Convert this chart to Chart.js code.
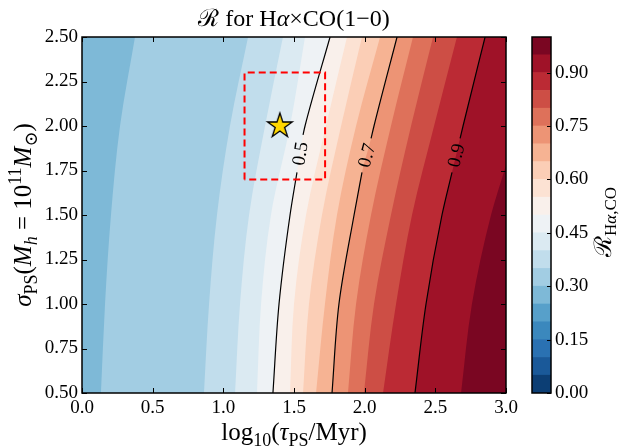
<!DOCTYPE html>
<html>
<head>
<meta charset="utf-8">
<script src="https://cdn.jsdelivr.net/npm/chart.js@4.4.1/dist/chart.umd.min.js"></script>
<style>
  html, body { margin: 0; padding: 0; background: #fff; }
  .wrap { position: relative; width: 621px; height: 447px; }
  .wrap canvas { position: absolute; left: 0; top: 0; }
</style>
</head>
<body>
<div class="wrap">
  <canvas id="mapChart" width="621" height="447"></canvas>
  <canvas id="barChart" width="621" height="447"></canvas>
</div>
<script>
// RdBu_r, one colour per 0.05 band from 0.00 to 1.00
const bandColors = [
  "#0c3e74", "#1a5999", "#2a71b2", "#3b88bd", "#57a0ca",
  "#7eb9d7", "#a2cde3", "#c1ddec", "#dbeaf2", "#eef2f5",
  "#f9f0eb", "#fce2d3", "#fbceb6", "#f6b393", "#ed9475",
  "#de715a", "#cd4e45", "#bb2a34", "#9f1228", "#7a0622"
];
const cbLevels = [0, 0.05, 0.1, 0.15, 0.2, 0.25, 0.3, 0.35, 0.4, 0.45, 0.5,
  0.55, 0.6, 0.65, 0.7, 0.75, 0.8, 0.85, 0.9, 0.95, 1.0];

const xTicks = [0, 0.5, 1, 1.5, 2, 2.5, 3];
const xTickLabels = ["0.0", "0.5", "1.0", "1.5", "2.0", "2.5", "3.0"];
const yTicks = [0.5, 0.75, 1, 1.25, 1.5, 1.75, 2, 2.25, 2.5];
const yTickLabels = ["0.50", "0.75", "1.00", "1.25", "1.50", "1.75", "2.00", "2.25", "2.50"];
const cbTicks = [0, 0.15, 0.3, 0.45, 0.6, 0.75, 0.9];
const cbTickLabels = ["0.00", "0.15", "0.30", "0.45", "0.60", "0.75", "0.90"];

// contour boundaries, [log10 tau, sigma] (bottom to top)
const edge25 = [[0, 0.5], [0, 2.5]];
const edge30 = [[0.134, 0.5], [0.163, 1.0], [0.205, 1.5], [0.269, 2.0], [0.375, 2.5]];
const edge35 = [[0.863, 0.5], [0.899, 1.0], [0.955, 1.5], [1.047, 2.0], [1.175, 2.5]];
const edge40 = [[1.083, 0.5], [1.118, 1.0], [1.182, 1.5], [1.295, 2.0], [1.422, 2.5]];
const edge45 = [[1.238, 0.5], [1.267, 1.0], [1.337, 1.5], [1.472, 2.0], [1.578, 2.5]];
const edge50 = [[1.351, 0.5], [1.394, 1.0], [1.472, 1.5], [1.521, 1.74], [1.564, 1.95], [1.578, 2.0], [1.755, 2.5]];
const edge55 = [[1.472, 0.5], [1.500, 1.0], [1.585, 1.5], [1.726, 2.0], [1.875, 2.5]];
const edge60 = [[1.564, 0.5], [1.606, 1.0], [1.698, 1.5], [1.833, 2.0], [1.981, 2.5]];
const edge65 = [[1.656, 0.5], [1.719, 1.0], [1.804, 1.5], [1.939, 2.0], [2.109, 2.5]];
const edge70 = [[1.769, 0.5], [1.818, 1.0], [1.925, 1.5], [1.981, 1.74], [2.045, 1.93], [2.066, 2.0], [2.229, 2.5]];
const edge75 = [[1.882, 0.5], [1.939, 1.0], [2.045, 1.5], [2.186, 2.0], [2.342, 2.5]];
const edge80 = [[1.995, 0.5], [2.066, 1.0], [2.186, 1.5], [2.328, 2.0], [2.484, 2.5]];
const edge85 = [[2.130, 0.5], [2.222, 1.0], [2.335, 1.5], [2.491, 2.0], [2.653, 2.5]];
const edge90 = [[2.356, 0.5], [2.434, 1.0], [2.547, 1.5], [2.618, 1.74], [2.675, 1.93], [2.696, 2.0], [2.852, 2.5]];
const edge95 = [[2.682, 0.5], [2.759, 1.0], [2.894, 1.5], [3.0, 1.78]];

const edgeLevels = [0.25, 0.3, 0.35, 0.4, 0.45, 0.5, 0.55, 0.6, 0.65, 0.7, 0.75, 0.8, 0.85, 0.9, 0.95];
const edges = [edge25, edge30, edge35, edge40, edge45, edge50, edge55, edge60,
  edge65, edge70, edge75, edge80, edge85, edge90, edge95];

// black contour lines, broken for the label between point 3 and 4
const lineEdges = [edge50, edge70, edge90];
const lineLabels = ["0.5", "0.7", "0.9"];
const labelGapAt = 4;

const boxX = [1.15, 1.72];
const boxY = [1.7, 2.3];
const starPoint = [1.4, 2.0];

const xMax = 3;
const serif = "'Liberation Serif', 'DejaVu Serif', serif";
const tickFont = { family: serif, size: 19 };

// filled bands: x = f(sigma), filled across to the right edge of the map
const bandSets = edges.map((edge, i) => ({
  data: edge.map(p => ({ x: p[0], y: p[1] })),
  indexAxis: "y",
  showLine: true,
  cubicInterpolationMode: "monotone",
  fill: { value: xMax },
  backgroundColor: bandColors[Math.round(edgeLevels[i] / 0.05)],
  borderColor: "rgba(0,0,0,0)",
  borderWidth: 0,
  pointRadius: 0,
  order: 100 - i,
}));

const lineSets = lineEdges.map(edge => {
  const pts = edge.map(p => ({ x: p[0], y: p[1] }));
  pts.splice(labelGapAt, 0, { x: null, y: null });
  return {
    data: pts,
    indexAxis: "y",
    showLine: true,
    cubicInterpolationMode: "monotone",
    spanGaps: false,
    fill: false,
    borderColor: "#000",
    borderWidth: 1.2,
    pointRadius: 0,
    order: 3,
  };
});

const boxSet = {
  data: [
    { x: boxX[0], y: boxY[0] }, { x: boxX[0], y: boxY[1] },
    { x: boxX[1], y: boxY[1] }, { x: boxX[1], y: boxY[0] },
    { x: boxX[0], y: boxY[0] },
  ],
  showLine: true,
  fill: false,
  borderColor: "#ff0000",
  borderWidth: 2,
  borderDash: [7, 4],
  pointRadius: 0,
  order: 2,
};

function makeStar(r) {
  const size = Math.ceil(r * 2 + 4);
  const c = document.createElement("canvas");
  c.width = size;
  c.height = size;
  const g = c.getContext("2d");
  g.translate(size / 2, size / 2);
  g.beginPath();
  for (let k = 0; k < 10; k++) {
    const rad = k % 2 ? r * 0.382 : r;
    const ang = -Math.PI / 2 + k * Math.PI / 5;
    g.lineTo(rad * Math.cos(ang), rad * Math.sin(ang));
  }
  g.closePath();
  g.fillStyle = "#ffd700";
  g.fill();
  g.lineWidth = 1.3;
  g.strokeStyle = "#000";
  g.stroke();
  return c;
}

const starSet = {
  data: [{ x: starPoint[0], y: starPoint[1] }],
  pointStyle: makeStar(13),
  pointRadius: 13,
  order: 1,
};

// text with sub/superscripts, centred on (cx, baseline cy), rotated by angle
function drawRich(ctx, parts, cx, cy, size, angle) {
  const fontOf = p => (p.it ? "italic " : "") + Math.round(size * (p.sub || p.sup ? 0.7 : 1)) + "px " + serif;
  let total = 0;
  parts.forEach(p => {
    ctx.font = fontOf(p);
    p.w = ctx.measureText(p.t).width;
    total += p.w;
  });
  ctx.save();
  ctx.translate(cx, cy);
  ctx.rotate(angle);
  ctx.textAlign = "left";
  ctx.textBaseline = "alphabetic";
  ctx.fillStyle = "#000";
  let x = -total / 2;
  parts.forEach(p => {
    ctx.font = fontOf(p);
    const dy = p.sub ? size * 0.22 : p.sup ? -size * 0.4 : 0;
    ctx.fillText(p.t, x, dy);
    x += p.w;
  });
  ctx.restore();
}

const decorations = {
  id: "decorations",
  afterDraw(chart) {
    const { ctx, chartArea: a } = chart;
    const x = chart.scales.x;
    const y = chart.scales.y;
    ctx.save();
    ctx.strokeStyle = "#000";
    ctx.lineWidth = 1;
    ctx.beginPath();
    xTicks.forEach(v => {
      const px = Math.round(x.getPixelForValue(v)) + 0.5;
      ctx.moveTo(px, a.bottom); ctx.lineTo(px, a.bottom - 5);
      ctx.moveTo(px, a.top); ctx.lineTo(px, a.top + 5);
    });
    yTicks.forEach(v => {
      const py = Math.round(y.getPixelForValue(v)) + 0.5;
      ctx.moveTo(a.left, py); ctx.lineTo(a.left + 5, py);
      ctx.moveTo(a.right, py); ctx.lineTo(a.right - 5, py);
    });
    ctx.stroke();
    ctx.lineWidth = 1.5;
    ctx.strokeRect(a.left, a.top, a.right - a.left, a.bottom - a.top);

    // contour labels sit in the gap of each line
    ctx.fillStyle = "#000";
    ctx.font = "19px " + serif;
    ctx.textAlign = "center";
    ctx.textBaseline = "middle";
    lineEdges.forEach((edge, i) => {
      const p1 = edge[labelGapAt - 1];
      const p2 = edge[labelGapAt];
      const x1 = x.getPixelForValue(p1[0]), y1 = y.getPixelForValue(p1[1]);
      const x2 = x.getPixelForValue(p2[0]), y2 = y.getPixelForValue(p2[1]);
      ctx.save();
      ctx.translate((x1 + x2) / 2, (y1 + y2) / 2);
      ctx.rotate(Math.atan2(y2 - y1, x2 - x1));
      ctx.fillText(lineLabels[i], 0, 1);
      ctx.restore();
    });

    const mid = (a.left + a.right) / 2;
    drawRich(ctx, [
      { t: "\u211B" }, { t: " for H" }, { t: "\u03B1", it: true }, { t: "\u00D7" }, { t: "CO(1\u22120)" },
    ], mid, 26, 24, 0);
    drawRich(ctx, [
      { t: "log" }, { t: "10", sub: true }, { t: "(" }, { t: "\u03C4", it: true },
      { t: "PS", sub: true }, { t: "/Myr)" },
    ], mid, 440, 25, 0);
    drawRich(ctx, [
      { t: "\u03C3", it: true }, { t: "PS", sub: true }, { t: "(" }, { t: "M", it: true },
      { t: "h", it: true, sub: true }, { t: " = 10" }, { t: "11", sup: true }, { t: "M", it: true },
      { t: "\u2299", sub: true }, { t: ")" },
    ], 31, (a.top + a.bottom) / 2, 25, -Math.PI / 2);
    drawRich(ctx, [
      { t: "\u211B" }, { t: "H", sub: true }, { t: "\u03B1", it: true, sub: true }, { t: ",CO", sub: true },
    ], 611, 222, 24, -Math.PI / 2);
    ctx.restore();
  },
};

new Chart(document.getElementById("mapChart"), {
  type: "scatter",
  data: { datasets: [...bandSets, ...lineSets, boxSet, starSet] },
  options: {
    responsive: false,
    animation: false,
    events: [],
    devicePixelRatio: 1,
    layout: { padding: { left: 0, right: 115, top: 37, bottom: 0 } },
    plugins: { legend: { display: false }, tooltip: { enabled: false } },
    scales: {
      x: {
        type: "linear",
        min: 0,
        max: xMax,
        afterBuildTicks: s => { s.ticks = xTicks.map(v => ({ value: v })); },
        afterFit: s => { s.height = 54; },
        ticks: {
          callback: (v, i) => xTickLabels[i],
          font: tickFont,
          color: "#000",
          padding: 4,
          maxRotation: 0,
          autoSkip: false,
        },
        grid: { display: false, drawTicks: false },
        border: { display: false },
      },
      y: {
        type: "linear",
        min: 0.5,
        max: 2.5,
        afterBuildTicks: s => { s.ticks = yTicks.map(v => ({ value: v })); },
        afterFit: s => { s.width = 82; },
        ticks: {
          callback: (v, i) => yTickLabels[i],
          font: tickFont,
          color: "#000",
          padding: 4,
          autoSkip: false,
        },
        grid: { display: false, drawTicks: false },
        border: { display: false },
      },
    },
  },
  plugins: [decorations],
});

// colour bar
const barFrame = {
  id: "barFrame",
  afterDraw(chart) {
    const { ctx, chartArea: a } = chart;
    const y = chart.scales.y;
    ctx.save();
    ctx.strokeStyle = "#000";
    ctx.lineWidth = 1;
    ctx.beginPath();
    cbTicks.forEach(v => {
      const py = Math.round(y.getPixelForValue(v)) + 0.5;
      ctx.moveTo(a.right, py); ctx.lineTo(a.right - 4, py);
    });
    ctx.stroke();
    ctx.lineWidth = 1.5;
    ctx.strokeRect(a.left, a.top, a.right - a.left, a.bottom - a.top);
    ctx.restore();
  },
};

new Chart(document.getElementById("barChart"), {
  type: "bar",
  data: {
    labels: [""],
    datasets: bandColors.map((c, i) => ({
      data: [[cbLevels[i], cbLevels[i + 1]]],
      backgroundColor: c,
      borderWidth: 0,
      barPercentage: 1,
      categoryPercentage: 1,
      grouped: false,
    })),
  },
  options: {
    responsive: false,
    animation: false,
    events: [],
    devicePixelRatio: 1,
    layout: { padding: { left: 532, right: 0, top: 37, bottom: 54 } },
    plugins: { legend: { display: false }, tooltip: { enabled: false } },
    scales: {
      x: { display: false },
      y: {
        position: "right",
        min: 0,
        max: 1,
        afterBuildTicks: s => { s.ticks = cbTicks.map(v => ({ value: v })); },
        afterFit: s => { s.width = 70; },
        ticks: {
          callback: (v, i) => cbTickLabels[i],
          font: tickFont,
          color: "#000",
          padding: 4,
          autoSkip: false,
        },
        grid: { display: false, drawTicks: false },
        border: { display: false },
      },
    },
  },
  plugins: [barFrame],
});
</script>
</body>
</html>
